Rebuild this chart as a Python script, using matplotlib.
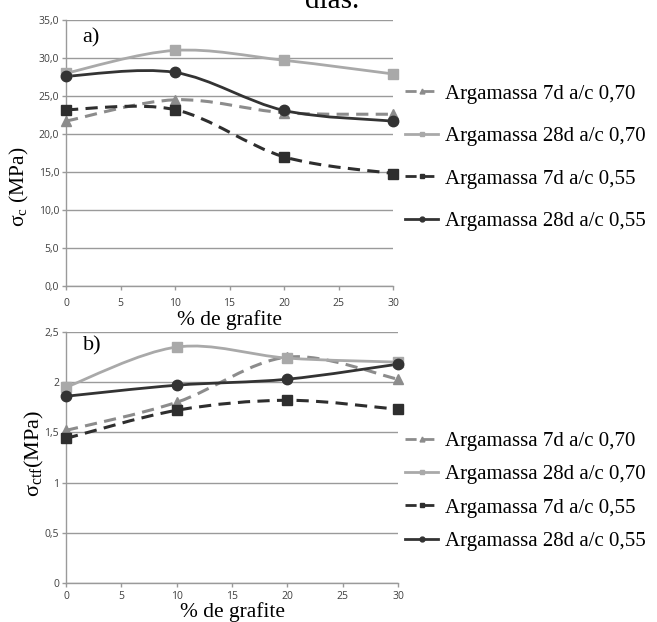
import numpy as np
import matplotlib
matplotlib.use("Agg")
import matplotlib.pyplot as plt
from matplotlib.path import Path
from matplotlib.patches import PathPatch
from matplotlib.lines import Line2D

# data
grafite = [0, 10, 20, 30]

# a) compressive strength (MPa)
sc_7d_070 = [21.7, 24.5, 22.8, 22.6]
sc_28d_070 = [28.0, 31.0, 29.7, 27.9]
sc_7d_055 = [23.2, 23.2, 17.0, 14.8]
sc_28d_055 = [27.6, 28.1, 23.1, 21.7]

# b) flexural tensile strength (MPa)
st_7d_070 = [1.52, 1.80, 2.25, 2.03]
st_28d_070 = [1.95, 2.35, 2.24, 2.20]
st_7d_055 = [1.44, 1.72, 1.82, 1.73]
st_28d_055 = [1.86, 1.97, 2.03, 2.18]

labels = ['Argamassa 7d a/c 0,70', 'Argamassa 28d a/c 0,70',
          'Argamassa 7d a/c 0,55', 'Argamassa 28d a/c 0,55']
x_ticks = [0, 5, 10, 15, 20, 25, 30]
ya_ticks = [0, 5, 10, 15, 20, 25, 30, 35]
ya_labels = ['0,0', '5,0', '10,0', '15,0', '20,0', '25,0', '30,0', '35,0']
yb_ticks = [0, 0.5, 1, 1.5, 2, 2.5]
yb_labels = ['0', '0,5', '1', '1,5', '2', '2,5']

serif = 'Liberation Serif'
tickfont = 'Open Sans'

# (color, linestyle, marker, markersize)
styles = [
    ('#8c8c8c', (0, (4.0, 2.4)), '^', 6.5),
    ('#a9a9a9', '-', 's', 6.5),
    ('#2e2e2e', (0, (4.0, 2.4)), 's', 6.5),
    ('#333333', '-', 'o', 7.5),
]


def smooth_path(x, y):
    # excel-like smoothed line, bezier segments through the data points
    pts = np.column_stack([x, y]).astype(float)
    n = len(pts)
    verts = [pts[0]]
    codes = [Path.MOVETO]
    for i in range(n - 1):
        p0 = pts[i - 1] if i > 0 else pts[i]
        p1 = pts[i]
        p2 = pts[i + 1]
        p3 = pts[i + 2] if i + 2 < n else pts[i + 1]
        verts += [p1 + (p2 - p0) / 6, p2 - (p3 - p1) / 6, p2]
        codes += [Path.CURVE4] * 3
    return Path(verts, codes)


def style_axes(ax, yticks, ylabels, ylim, xpad):
    ax.set_xlim(0, 30)
    ax.set_ylim(*ylim)
    ax.set_xticks(x_ticks)
    ax.set_xticklabels([str(t) for t in x_ticks])
    ax.set_yticks(yticks)
    ax.set_yticklabels(ylabels)
    for s in ['top', 'right']:
        ax.spines[s].set_visible(False)
    for s in ['left', 'bottom']:
        ax.spines[s].set_color('#9a9a9a')
        ax.spines[s].set_linewidth(1.0)
    ax.grid(axis='y', color='#9a9a9a', lw=1.0)
    ax.set_axisbelow(True)
    ax.tick_params(direction='out', length=3, width=1.0, color='#9a9a9a',
                   labelsize=7.5, labelcolor='#404040', pad=2)
    ax.tick_params(axis='x', pad=xpad)
    for lab in ax.get_xticklabels() + ax.get_yticklabels():
        lab.set_family(tickfont)


def draw_series(ax, series):
    for vals, (c, ls, m, ms) in zip(series, styles):
        lw = 2.0 if ls == '-' else 2.2
        patch = PathPatch(smooth_path(grafite, vals), fill=False, edgecolor=c,
                          lw=lw, linestyle=ls, transform=ax.transData,
                          clip_on=False, zorder=3)
        ax.add_patch(patch)
        ax.plot(grafite, vals, linestyle='none', marker=m, ms=ms, color=c,
                clip_on=False, zorder=4)


def add_legend(ax, anchor, spacing):
    handles = []
    for c, ls, m, ms in styles:
        handles.append(Line2D([], [], color=c, lw=2.0, linestyle=ls,
                              marker=m, ms=3.5))
    leg = ax.legend(handles, labels, loc='upper left', bbox_to_anchor=anchor,
                    bbox_transform=ax.figure.transFigure, frameon=False,
                    prop={'family': serif, 'size': 15}, handlelength=1.6,
                    handletextpad=0.34, labelspacing=spacing, borderpad=0,
                    borderaxespad=0)
    return leg


fig = plt.figure(figsize=(6.57, 6.22), dpi=100)
ax1 = fig.add_axes([66 / 657, 1 - 286 / 622, 327 / 657, 266 / 622])
ax2 = fig.add_axes([66 / 657, 1 - 583 / 622, 332 / 657, 251 / 622])

style_axes(ax1, ya_ticks, ya_labels, (0, 35), 5.5)
draw_series(ax1, [sc_7d_070, sc_28d_070, sc_7d_055, sc_28d_055])
add_legend(ax1, (405 / 657, 1 - 84 / 622), 1.10)

style_axes(ax2, yb_ticks, yb_labels, (0, 2.5), 3)
draw_series(ax2, [st_7d_070, st_28d_070, st_7d_055, st_28d_055])
add_legend(ax2, (405 / 657, 1 - 431.5 / 622), 0.66)

ax1.text(0.05, 0.97, 'a)', transform=ax1.transAxes, family=serif,
         fontsize=16, va='top')
ax2.text(0.05, 0.985, 'b)', transform=ax2.transAxes, family=serif,
         fontsize=16, va='top')

for ax, ycoord in [(ax1, -34 / 266), (ax2, -29 / 251)]:
    ax.set_xlabel('% de grafite', family=serif, fontsize=15.4)
    ax.xaxis.set_label_coords(0.5, ycoord)
    ax.xaxis.label.set_va('center')

fig.text(19 / 657, 1 - 187 / 622, r'$\mathregular{\sigma_c}$ (MPa)', rotation=90,
         family=serif, fontsize=15.5, ha='center', va='center')
fig.text(34 / 657, 1 - 453 / 622, r'$\mathregular{\sigma_{ctf}}$(MPa)', rotation=90,
         family=serif, fontsize=16, ha='center', va='center')

fig.text(332 / 657, 1 - 8 / 622, 'dias.', family=serif, fontsize=21,
         ha='center', va='baseline')

fig.savefig('out.png', dpi=100)
